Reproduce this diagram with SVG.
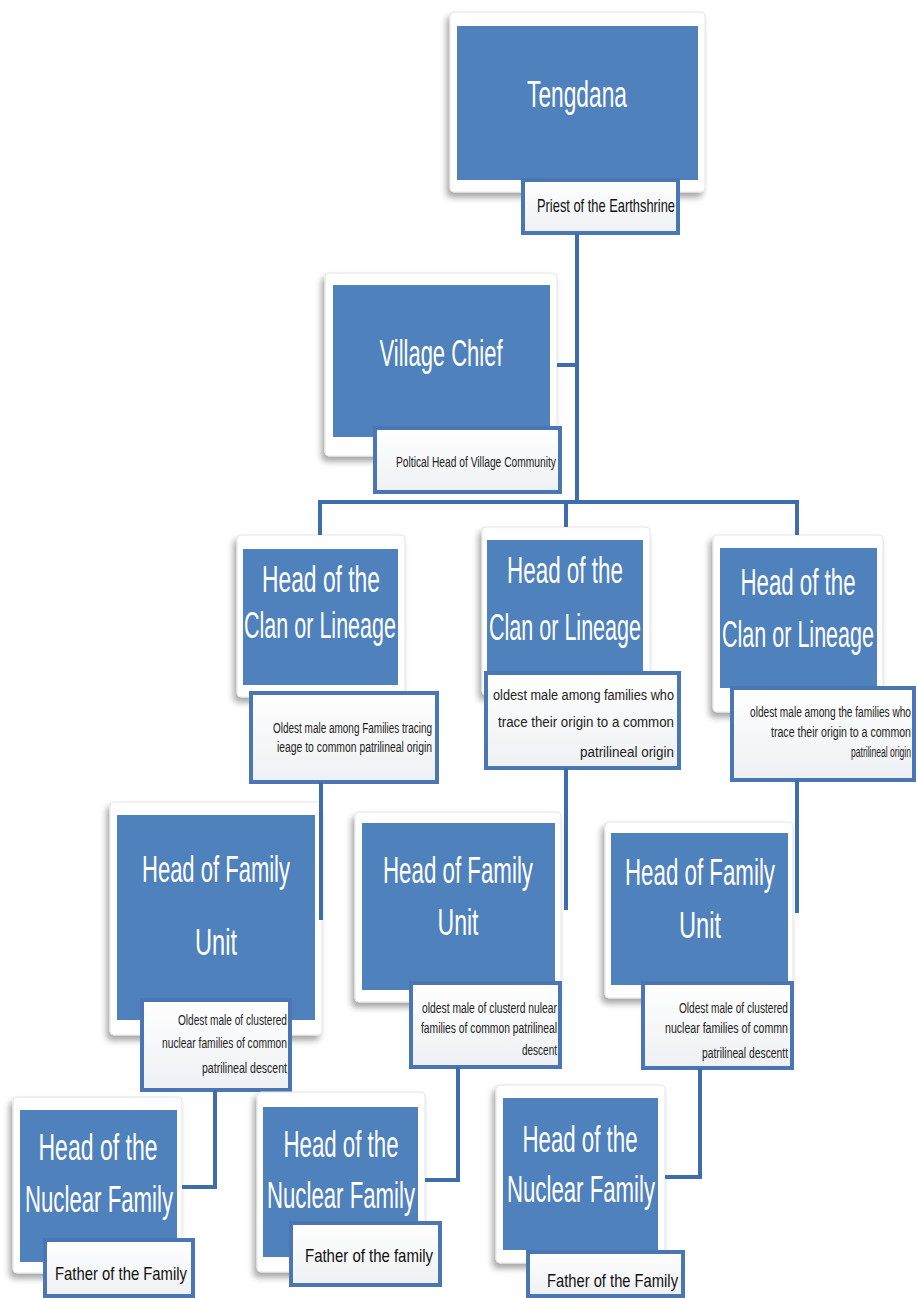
<svg xmlns="http://www.w3.org/2000/svg" width="917" height="1298" viewBox="0 0 917 1298">
<defs>
<filter id="sh" x="-20%" y="-20%" width="140%" height="140%">
<feDropShadow dx="-3" dy="5" stdDeviation="3" flood-color="#000" flood-opacity="0.35"/>
</filter>
<linearGradient id="lg" x1="0" y1="0" x2="0" y2="1">
<stop offset="0" stop-color="#ffffff"/>
<stop offset="1" stop-color="#eef0f3"/>
</linearGradient>
</defs>
<style>
.card{fill:#ffffff;stroke:#e4e4e4;stroke-width:1;filter:url(#sh)}
.blue{fill:#4f81bd}
.lab{fill:url(#lg);stroke:#4a77b4;stroke-width:4}
.big{font-family:"Liberation Sans",Arial,sans-serif;font-size:36px;fill:#ffffff;text-anchor:middle}
.sm{font-family:"Liberation Sans",Arial,sans-serif;font-size:14px;fill:#222222;text-anchor:end}
.md{font-family:"Liberation Sans",Arial,sans-serif;font-size:19px;fill:#111111}
.con{fill:none;stroke:#3e6dae;stroke-width:4}
</style>
<rect width="917" height="1298" fill="#ffffff"/>

<g id="tengdana">
<rect class="card" x="450" y="12" width="255" height="180" rx="4"/>
<rect class="blue" x="457" y="26" width="241" height="154"/>
<text class="big" x="577" y="107" textLength="100" lengthAdjust="spacingAndGlyphs">Tengdana</text>
<rect class="lab" x="523" y="180" width="155" height="53"/>
<text class="md" x="537" y="212" font-size="17" textLength="138" lengthAdjust="spacingAndGlyphs">Priest of the Earthshrine</text>
</g>

<g id="village-chief">
<rect class="card" x="325" y="273" width="232" height="183" rx="4"/>
<rect class="blue" x="333" y="285" width="217" height="152"/>
<text class="big" x="441" y="366" font-size="42" textLength="123" lengthAdjust="spacingAndGlyphs">Village Chief</text>
<rect class="lab" x="375" y="428" width="185" height="64"/>
<text class="sm" x="556" y="467" font-size="13" textLength="160" lengthAdjust="spacingAndGlyphs">Poltical  Head of Village Community</text>
</g>

<g id="clan-left">
<rect class="card" x="237" y="535" width="168" height="162" rx="4"/>
<rect class="blue" x="243" y="549" width="155" height="136"/>
<text class="big" x="321" y="592" textLength="118" lengthAdjust="spacingAndGlyphs">Head of the</text>
<text class="big" x="320" y="638" textLength="152" lengthAdjust="spacingAndGlyphs">Clan or Lineage</text>
<rect class="lab" x="251" y="693" width="186" height="89"/>
<text class="sm" x="432" y="733" textLength="159" lengthAdjust="spacingAndGlyphs">Oldest male among  Families tracing</text>
<text class="sm" x="432" y="752" textLength="155" lengthAdjust="spacingAndGlyphs">ieage to common  patrilineal  origin</text>
</g>

<g id="clan-middle">
<rect class="card" x="482" y="527" width="168" height="168" rx="4"/>
<rect class="blue" x="487" y="540" width="156" height="135"/>
<text class="big" x="565" y="583" textLength="116" lengthAdjust="spacingAndGlyphs">Head of the</text>
<text class="big" x="565" y="640" textLength="152" lengthAdjust="spacingAndGlyphs">Clan or Lineage</text>
<rect class="lab" x="486" y="673" width="193" height="95"/>
<text class="sm" x="674" y="700" font-size="17" textLength="181" lengthAdjust="spacingAndGlyphs">oldest male among families who</text>
<text class="sm" x="674" y="727" font-size="17" textLength="176" lengthAdjust="spacingAndGlyphs">trace their origin  to a common</text>
<text class="sm" x="674" y="757" font-size="17" textLength="94" lengthAdjust="spacingAndGlyphs">patrilineal origin</text>
</g>

<g id="clan-right">
<rect class="card" x="713" y="535" width="170" height="177" rx="4"/>
<rect class="blue" x="720" y="548" width="157" height="140"/>
<text class="big" x="798" y="595" textLength="115" lengthAdjust="spacingAndGlyphs">Head of the</text>
<text class="big" x="798" y="647" textLength="152" lengthAdjust="spacingAndGlyphs">Clan or Lineage</text>
<rect class="lab" x="732" y="688" width="182" height="92"/>
<text class="sm" x="911" y="717" textLength="161" lengthAdjust="spacingAndGlyphs">oldest male among the families who</text>
<text class="sm" x="911" y="737" textLength="140" lengthAdjust="spacingAndGlyphs">trace their origin to a common</text>
<text class="sm" x="911" y="757" textLength="60" lengthAdjust="spacingAndGlyphs">patrilineal  origin</text>
</g>

<g id="family-left">
<rect class="card" x="110" y="802" width="212" height="233" rx="4"/>
<rect class="blue" x="117" y="815" width="198" height="205"/>
<text class="big" x="216" y="882" textLength="148" lengthAdjust="spacingAndGlyphs">Head of Family</text>
<text class="big" x="216" y="955" textLength="42" lengthAdjust="spacingAndGlyphs">Unit</text>
<rect class="lab" x="142" y="1000" width="148" height="90"/>
<text class="sm" x="287" y="1025" textLength="109" lengthAdjust="spacingAndGlyphs">Oldest male of clustered</text>
<text class="sm" x="287" y="1048" textLength="125" lengthAdjust="spacingAndGlyphs">nuclear  families of common</text>
<text class="sm" x="287" y="1073" textLength="85" lengthAdjust="spacingAndGlyphs">patrilineal  descent</text>
</g>

<g id="family-middle">
<rect class="card" x="355" y="812" width="206" height="190" rx="4"/>
<rect class="blue" x="362" y="823" width="193" height="167"/>
<text class="big" x="458" y="883" textLength="150" lengthAdjust="spacingAndGlyphs">Head of Family</text>
<text class="big" x="458" y="935" textLength="41" lengthAdjust="spacingAndGlyphs">Unit</text>
<rect class="lab" x="411" y="983" width="149" height="84"/>
<text class="sm" x="557" y="1013" textLength="135" lengthAdjust="spacingAndGlyphs">oldest male of clusterd  nulear</text>
<text class="sm" x="557" y="1033" textLength="136" lengthAdjust="spacingAndGlyphs">families of common  patrilineal</text>
<text class="sm" x="557" y="1055" textLength="35" lengthAdjust="spacingAndGlyphs">descent</text>
</g>

<g id="family-right">
<rect class="card" x="605" y="822" width="188" height="176" rx="4"/>
<rect class="blue" x="611" y="833" width="177" height="152"/>
<text class="big" x="700" y="885" textLength="150" lengthAdjust="spacingAndGlyphs">Head of Family</text>
<text class="big" x="700" y="938" textLength="42" lengthAdjust="spacingAndGlyphs">Unit</text>
<rect class="lab" x="643" y="983" width="149" height="85"/>
<text class="sm" x="788" y="1013" textLength="109" lengthAdjust="spacingAndGlyphs">Oldest male of clustered</text>
<text class="sm" x="788" y="1033" textLength="123" lengthAdjust="spacingAndGlyphs">nuclear  families  of commn</text>
<text class="sm" x="788" y="1058" textLength="86" lengthAdjust="spacingAndGlyphs">patrilineal  descentt</text>
</g>

<g id="nuclear-left">
<rect class="card" x="13" y="1097" width="169" height="176" rx="4"/>
<rect class="blue" x="20" y="1110" width="157" height="152"/>
<text class="big" x="98" y="1160" textLength="119" lengthAdjust="spacingAndGlyphs">Head of the</text>
<text class="big" x="99" y="1212" textLength="148" lengthAdjust="spacingAndGlyphs">Nuclear Family</text>
<rect class="lab" x="45" y="1240" width="148" height="56"/>
<text class="md" x="55" y="1280" textLength="132" lengthAdjust="spacingAndGlyphs">Father of the Family</text>
</g>

<g id="nuclear-middle">
<rect class="card" x="257" y="1092" width="168" height="180" rx="4"/>
<rect class="blue" x="263" y="1107" width="155" height="150"/>
<text class="big" x="341" y="1157" textLength="115" lengthAdjust="spacingAndGlyphs">Head of the</text>
<text class="big" x="341" y="1208" textLength="148" lengthAdjust="spacingAndGlyphs">Nuclear Family</text>
<rect class="lab" x="291" y="1223" width="149" height="62"/>
<text class="md" x="305" y="1262" textLength="128" lengthAdjust="spacingAndGlyphs">Father of the family</text>
</g>

<g id="nuclear-right">
<rect class="card" x="496" y="1085" width="169" height="178" rx="4"/>
<rect class="blue" x="503" y="1098" width="155" height="152"/>
<text class="big" x="580" y="1152" textLength="115" lengthAdjust="spacingAndGlyphs">Head of the</text>
<text class="big" x="581" y="1202" textLength="148" lengthAdjust="spacingAndGlyphs">Nuclear Family</text>
<rect class="lab" x="528" y="1252" width="155" height="44"/>
<text class="md" x="547" y="1287" textLength="131" lengthAdjust="spacingAndGlyphs">Father of the Family</text>
</g>

<g id="connectors">
<path class="con" d="M577,233 V502"/>
<path class="con" d="M557,365 H577"/>
<path class="con" d="M320,502 H798"/>
<path class="con" d="M320,500 V535"/>
<path class="con" d="M566,500 V527"/>
<path class="con" d="M797,500 V535"/>
<path class="con" d="M321,782 V920"/>
<path class="con" d="M566,768 V910"/>
<path class="con" d="M797,780 V913"/>
<path class="con" d="M215,1090 V1187 H182"/>
<path class="con" d="M458,1067 V1180 H425"/>
<path class="con" d="M700,1068 V1177 H665"/>
</g>
</svg>
